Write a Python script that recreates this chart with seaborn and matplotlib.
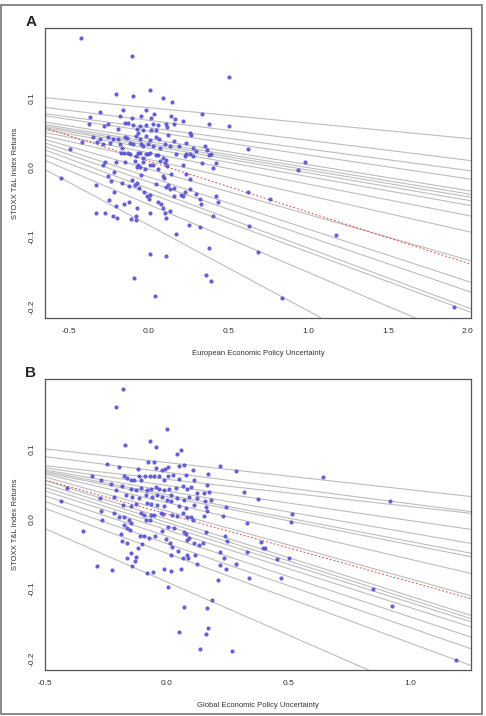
import numpy as np
import pandas as pd
import matplotlib
matplotlib.use("Agg")
import matplotlib.pyplot as plt
import seaborn as sns
from matplotlib.patches import Rectangle

# scatter points, panel A (European EPU vs returns)
eu_x = [-0.423, -0.102, 0.502, -0.208, -0.098, 0.006, 0.088, 0.148, -0.304, -0.160,
        -0.015, -0.177, -0.104, -0.050, 0.012, 0.033, 0.140, 0.165, 0.213, 0.333,
        0.381, 0.502, -0.367, -0.373, -0.281, -0.254, -0.192, -0.150, -0.129, -0.098,
        -0.073, -0.056, -0.035, -0.015, 0.027, 0.058, 0.110, 0.115, 0.156, 0.012,
        0.048, -0.348, -0.306, -0.254, -0.223, -0.192, -0.150, -0.135, -0.081, -0.067,
        -0.056, -0.015, 0.006, 0.044, 0.065, 0.121, 0.156, 0.256, 0.265, -0.417,
        -0.327, -0.285, -0.244, -0.181, -0.165, -0.119, -0.098, -0.046, -0.035, -0.004,
        0.027, 0.069, 0.100, 0.131, 0.190, 0.235, 0.277, 0.352, 0.365, -0.494,
        0.623, -0.156, -0.119, -0.067, -0.015, 0.006, 0.058, 0.173, 0.231, 0.277,
        0.381, -0.171, -0.129, -0.077, -0.056, -0.035, -0.004, 0.048, 0.090, 0.110,
        0.225, 0.256, 0.298, 0.392, -0.275, -0.285, -0.202, -0.150, -0.088, -0.067,
        -0.035, 0.006, 0.027, 0.069, 0.100, 0.115, 0.214, 0.335, 0.423, 0.402,
        -0.073, -0.056, -0.025, 0.058, -0.219, 0.235, 0.256, 0.142, 0.090, 0.094,
        -0.050, -0.552, -0.254, -0.238, -0.165, -0.123, -0.102, -0.088, -0.073, -0.060,
        -0.029, -0.008, 0.006, 0.002, 0.048, 0.110, 0.121, 0.131, 0.158, 0.156,
        0.204, 0.214, 0.229, 0.256, 0.298, 0.319, 0.329, 0.419, 0.433, 0.621,
        -0.331, -0.217, -0.250, -0.202, -0.156, -0.125, -0.073, 0.006, 0.058, 0.075,
        0.090, 0.100, 0.106, 0.135, -0.275, -0.223, -0.196, -0.113, -0.081, -0.077,
        0.252, 0.319, 0.402, 0.169, 0.631, 0.688, 0.381, 0.006, 0.106, -0.092,
        0.360, 0.388, 0.042, 0.979, 0.933, 0.758, 1.177, 0.833, 1.913, -0.331]
eu_y = [0.185, 0.160, 0.129, 0.105, 0.103, 0.111, 0.100, 0.094, 0.079, 0.082,
        0.082, 0.074, 0.071, 0.073, 0.071, 0.076, 0.074, 0.070, 0.066, 0.077,
        0.062, 0.060, 0.072, 0.062, 0.060, 0.062, 0.055, 0.063, 0.064, 0.061,
        0.055, 0.059, 0.054, 0.061, 0.062, 0.061, 0.062, 0.058, 0.062, 0.054,
        0.053, 0.044, 0.040, 0.043, 0.040, 0.040, 0.044, 0.042, 0.045, 0.049,
        0.040, 0.045, 0.039, 0.044, 0.041, 0.046, 0.038, 0.049, 0.046, 0.037,
        0.036, 0.033, 0.035, 0.033, 0.028, 0.035, 0.033, 0.034, 0.030, 0.033,
        0.030, 0.028, 0.033, 0.030, 0.030, 0.035, 0.028, 0.030, 0.025, 0.027,
        0.026, 0.021, 0.019, 0.020, 0.019, 0.021, 0.017, 0.019, 0.019, 0.016,
        0.017, 0.020, 0.021, 0.016, 0.021, 0.014, 0.019, 0.017, 0.014, 0.011,
        0.016, 0.019, 0.023, 0.019, 0.007, 0.004, 0.008, 0.007, 0.009, 0.004,
        0.007, 0.004, 0.003, 0.009, 0.006, 0.002, 0.003, 0.006, 0.006, -0.001,
        0.000, 0.000, -0.002, -0.003, -0.007, -0.010, -0.017, -0.010, -0.012, -0.016,
        -0.011, -0.016, -0.012, -0.020, -0.023, -0.027, -0.018, -0.025, -0.023, -0.030,
        -0.035, -0.041, -0.040, -0.045, -0.024, -0.028, -0.026, -0.031, -0.029, -0.041,
        -0.039, -0.041, -0.036, -0.031, -0.038, -0.046, -0.053, -0.041, -0.050, -0.035,
        -0.026, -0.035, -0.047, -0.055, -0.053, -0.050, -0.059, -0.065, -0.050, -0.053,
        -0.058, -0.065, -0.073, -0.062, -0.066, -0.070, -0.072, -0.074, -0.076, -0.070,
        -0.083, -0.086, -0.070, -0.096, -0.084, -0.122, -0.115, -0.124, -0.127, -0.159,
        -0.154, -0.163, -0.184, 0.007, -0.004, -0.046, -0.097, -0.187, -0.200, -0.066]

# scatter points, panel B (Global EPU vs returns)
gl_x = [-0.180, -0.210, 0.003, -0.173, -0.067, -0.045, 0.041, 0.060, -0.244, -0.196,
        -0.118, -0.075, -0.052, -0.045, -0.021, -0.007, 0.005, 0.051, 0.071, 0.110,
        0.219, 0.284, 0.171, -0.306, -0.272, -0.176, -0.165, -0.148, -0.135, -0.114,
        -0.107, -0.089, -0.069, -0.052, -0.032, -0.011, 0.005, 0.027, 0.051, 0.078,
        0.112, 0.167, 0.316, 0.373, -0.230, -0.210, -0.182, -0.148, -0.128, -0.107,
        -0.079, -0.066, -0.045, -0.032, -0.011, 0.009, 0.037, 0.065, 0.085, 0.099,
        0.126, 0.154, 0.174, -0.409, -0.433, -0.274, -0.217, -0.169, -0.141, -0.114,
        -0.086, -0.059, -0.038, -0.018, 0.003, 0.016, 0.044, 0.071, 0.092, 0.126,
        0.156, 0.181, 0.243, -0.178, -0.148, -0.128, -0.079, -0.066, -0.038, -0.011,
        0.016, 0.051, 0.078, 0.112, 0.160, -0.272, -0.217, -0.107, -0.066, -0.025,
        0.023, 0.065, 0.099, 0.165, 0.233, 0.513, 0.641, 0.918, 0.510, 0.328,
        -0.196, -0.176, -0.155, -0.148, -0.093, -0.086, -0.069, -0.052, -0.014, 0.044,
        0.085, 0.106, 0.154, -0.265, -0.176, -0.162, -0.152, -0.343, -0.189, -0.110,
        -0.093, -0.073, -0.049, -0.018, 0.005, 0.030, 0.071, 0.078, 0.085, 0.092,
        -0.004, 0.160, 0.239, 0.247, 0.387, 0.394, 0.405, -0.182, -0.162, -0.100,
        -0.118, 0.014, 0.023, 0.112, 0.133, 0.149, -0.148, -0.165, -0.128, -0.132,
        -0.144, 0.016, 0.047, 0.065, 0.082, 0.089, 0.115, 0.126, 0.219, 0.236,
        0.284, 0.219, 0.243, 0.329, 0.339, 0.455, 0.469, 0.501, -0.288, -0.224,
        -0.082, -0.055, -0.011, 0.019, 0.058, 0.211, 0.005, 0.184, 0.071, 0.165,
        0.170, 0.160, 0.049, 0.137, 0.267, 0.849, 0.926, 1.189]
gl_y = [0.185, 0.160, 0.129, 0.105, 0.111, 0.103, 0.093, 0.099, 0.078, 0.074,
        0.072, 0.081, 0.082, 0.073, 0.070, 0.072, 0.074, 0.076, 0.077, 0.070,
        0.075, 0.069, 0.064, 0.061, 0.055, 0.062, 0.059, 0.055, 0.056, 0.062,
        0.056, 0.061, 0.062, 0.061, 0.062, 0.055, 0.062, 0.063, 0.057, 0.063,
        0.056, 0.049, 0.038, 0.029, 0.050, 0.042, 0.047, 0.043, 0.042, 0.044,
        0.042, 0.043, 0.045, 0.043, 0.042, 0.043, 0.044, 0.047, 0.043, 0.045,
        0.037, 0.037, 0.038, 0.044, 0.026, 0.030, 0.032, 0.034, 0.032, 0.030,
        0.034, 0.032, 0.034, 0.031, 0.027, 0.034, 0.030, 0.027, 0.032, 0.030,
        0.025, 0.027, 0.017, 0.020, 0.018, 0.022, 0.023, 0.022, 0.020, 0.018,
        0.025, 0.018, 0.015, 0.020, 0.017, 0.012, 0.008, 0.009, 0.006, 0.008,
        0.006, 0.008, 0.003, 0.011, 0.004, 0.007, 0.060, 0.025, -0.004, -0.006,
        0.003, 0.003, -0.001, -0.006, 0.006, -0.001, -0.002, 0.006, 0.007, 0.004,
        0.003, -0.001, 0.004, -0.002, -0.009, -0.013, -0.016, -0.017, -0.021, -0.025,
        -0.025, -0.028, -0.025, -0.017, -0.011, -0.013, -0.018, -0.022, -0.030, -0.028,
        -0.029, -0.018, -0.025, -0.032, -0.033, -0.041, -0.041, -0.031, -0.035, -0.036,
        -0.042, -0.034, -0.040, -0.035, -0.037, -0.034, -0.049, -0.056, -0.054, -0.060,
        -0.067, -0.052, -0.046, -0.056, -0.052, -0.056, -0.052, -0.064, -0.048, -0.056,
        -0.064, -0.066, -0.071, -0.047, -0.084, -0.058, -0.085, -0.056, -0.068, -0.073,
        -0.077, -0.076, -0.071, -0.075, -0.071, -0.088, -0.097, -0.116, -0.126, -0.128,
        -0.156, -0.165, -0.161, -0.186, -0.189, -0.100, -0.124, -0.201]

# quantile regression lines (intercept, slope) and OLS fit
eu_q_int = [0.0856, 0.0674, 0.0570, 0.0518, 0.0409, 0.0370, 0.0342, 0.0314, 0.0275,
            0.0208, 0.0114, -0.0024, -0.0137, -0.0209, -0.0305, -0.0370, -0.0533, -0.0830]
eu_q_slope = [-0.0221, -0.0286, -0.0307, -0.0341, -0.0371, -0.0375, -0.0382, -0.0393, -0.0408,
              -0.0449, -0.0517, -0.0652, -0.0749, -0.0783, -0.0854, -0.0846, -0.0974, -0.1230]
eu_ols = (0.0089, -0.0732)

gl_q_int = [0.0806, 0.0666, 0.0566, 0.0479, 0.0400, 0.0346, 0.0317, 0.0234, 0.0114,
            -0.0001, -0.0050, -0.0099, -0.0156, -0.0247, -0.0352, -0.0491, -0.0900]
gl_q_slope = [-0.0389, -0.0449, -0.0389, -0.0503, -0.0600, -0.0669, -0.0686, -0.0811, -0.0971,
              -0.1103, -0.1100, -0.1097, -0.1111, -0.1154, -0.1203, -0.1283, -0.1520]
gl_ols = (0.0071, -0.0969)

y_ticks = [-0.2, -0.1, 0.0, 0.1]
y_ticklabels = ["-0.2", "-0.1", "0.0", "0.1"]

sns.set_style("white")
plt.rcParams['font.family'] = ['Liberation Sans', 'DejaVu Sans']

fig = plt.figure(figsize=(4.86, 7.16), dpi=100)

# outer frame
fig.patches.append(Rectangle((0.003, 0.003), 0.988, 0.99, transform=fig.transFigure,
                             fill=False, edgecolor="#777777", linewidth=1.2))


def draw_panel(ax, xs, ys, q_int, q_slope, ols, xlim, xticks, xticklabels, xlabel):
    ax.set_xlim(xlim)
    ax.set_ylim(-0.216, 0.2)
    xx = np.array(xlim)
    for a, b in zip(q_int, q_slope):
        ax.plot(xx, a + b * xx, color="#bdbdbd", linewidth=0.8, zorder=1)
    ax.plot(xx, ols[0] + ols[1] * xx, color="#e05050", linewidth=0.7,
            linestyle=(0, (2, 2)), zorder=2)
    df = pd.DataFrame({"x": xs, "y": ys})
    sns.scatterplot(data=df, x="x", y="y", ax=ax, color="#5750d2", s=9,
                    linewidth=0, alpha=0.9, zorder=3)
    ax.set_xticks(xticks)
    ax.set_xticklabels(xticklabels)
    ax.set_yticks(y_ticks)
    ax.set_yticklabels(y_ticklabels, rotation=90, va="center")
    ax.tick_params(axis="both", direction="out", length=4, width=0.6,
                   color="#444444", labelsize=6, labelcolor="#333333", pad=3)
    for s in ax.spines.values():
        s.set_visible(True)
        s.set_color("#555555")
        s.set_linewidth(0.9)
    ax.set_xlabel(xlabel, fontsize=5.5, color="#333333", labelpad=11)
    ax.set_ylabel("STOXX T&L Index Returns", fontsize=5.5, color="#333333", labelpad=7)


axA = fig.add_axes([0.0926, 0.556, 0.8765, 0.405])
draw_panel(axA, eu_x, eu_y, eu_q_int, eu_q_slope, eu_ols, (-0.65, 2.02),
           [-0.5, 0.0, 0.5, 1.0, 1.5, 2.0], ["-0.5", "0.0", "0.5", "1.0", "1.5", "2.0"],
           "European Economic Policy Uncertainty")

axB = fig.add_axes([0.0926, 0.0642, 0.8765, 0.4065])
draw_panel(axB, gl_x, gl_y, gl_q_int, gl_q_slope, gl_ols, (-0.5, 1.25),
           [-0.5, 0.0, 0.5, 1.0], ["-0.5", "0.0", "0.5", "1.0"],
           "Global Economic Policy Uncertainty")

fig.text(0.052, 0.969, "A", fontsize=11, fontweight="bold", ha="left", va="center")
fig.text(0.052, 0.479, "B", fontsize=11, fontweight="bold", ha="left", va="center")

fig.savefig("out.png", dpi=100)
